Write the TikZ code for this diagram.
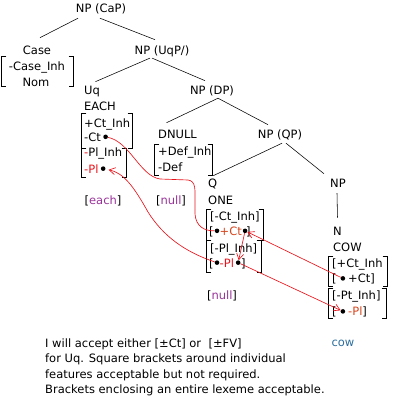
\documentclass[tikz,border=0pt]{standalone}
\usepackage{fontspec}
\setmainfont{DejaVu Sans}
\usetikzlibrary{arrows.meta,positioning,calc}
\definecolor{Red}{HTML}{E8141C}
\definecolor{OrRed}{HTML}{D4461E}
\definecolor{Plum}{HTML}{993399}
\definecolor{Teal}{HTML}{2C6E9E}
\newcommand{\lexfont}{\fontsize{11.5}{14}\selectfont}
% square brackets round a box node
\newcommand{\brk}[1]{\draw[brkline] ([xshift=4.5pt]#1.north west) -| (#1.south west) -- ++(4.5pt,0)
  ([xshift=-4.5pt]#1.north east) -| (#1.south east) -- ++(-4.5pt,0);}
\tikzset{
  lbl/.style={inner sep=0pt,font=\lexfont,anchor=base},
  feat/.style={inner sep=0pt,font=\lexfont,anchor=base west},
  brkbox/.style={inner sep=0pt},
  branch/.style={draw=black,line width=0.55pt},
  brkline/.style={draw=black,line width=0.75pt},
  dot/.style={circle,fill=black,inner sep=0pt,minimum size=4.6pt},
  link/.style={draw=Red,line width=0.65pt},
  linkarr/.style={link,-{Straight Barb[length=6pt,width=7pt]}}
}
\begin{document}
\begin{tikzpicture}[x=1pt,y=-1pt]
  \useasboundingbox (0,0) rectangle (403,410);
  % tree labels
  \node[lbl] (npcap) at (101,12) {NP (CaP)};
  \node[lbl] (case) at (37,54) {Case};
  \node[lbl] (caseinh) at (37,70) {-Case\_Inh};
  \node[lbl] (nom) at (36,86) {Nom};
  \node[brkbox,minimum width=71pt,minimum height=29pt] (casebox) at (37.5,71.5) {};
  \node[lbl] (npuqp) at (162,54) {NP (UqP/)};
  \node[feat] (uq) at (84,94) {Uq};
  \node[feat] (each) at (84,110) {EACH};
  \node[lbl] (npdp) at (212,94) {NP (DP)};
  \node[feat] (dnull) at (158,138) {DNULL};
  \node[lbl] (npqp) at (280,138) {NP (QP)};
  \node[feat] (q) at (208,187) {Q};
  \node[feat] (one) at (208,204) {ONE};
  \node[lbl] (np) at (338,187) {NP};
  \node[feat] (n) at (333,235) {N};
  \node[feat] (cow) at (333,251) {COW};

  % EACH features
  \node[feat] (eachinh) at (84,127) {+Ct\_Inh};
  \node[feat] (eachct) at (84,141) {-Ct};
  \node[dot,right=2pt of eachct] (eachctdot) {};
  \node[brkbox,minimum width=50pt,minimum height=34pt] (eachbox1) at (107,131) {};
  \node[feat] (eachplinh) at (84,156) {\textcolor{Red}{-}Pl\_Inh};
  \node[feat] (eachpl) at (84,173) {\textcolor{Red}{-Pl}};
  \node[dot,right=2pt of eachpl] (eachpldot) {};
  \node[brkbox,minimum width=44pt,minimum height=28pt] (eachbox2) at (104,163) {};
  \node[lbl] (eachtag) at (103,204) {[\textcolor{Plum}{each}]};

  % DNULL features
  \node[feat] (definh) at (158,155) {+Def\_Inh};
  \node[feat] (def) at (158,171) {-Def};
  \node[brkbox,minimum width=57pt,minimum height=30pt] (defbox) at (183.5,160) {};
  \node[lbl] (nulltag1) at (171,204) {[\textcolor{Plum}{null}]};

  % ONE features
  \node[feat] (onectinh) at (210,220) {[-Ct\_Inh]};
  \node[feat] (onelb1) at (209,235) {[};
  \node[feat] (onect) at (219.5,235) {\textcolor{OrRed}{+Ct}};
  \node[dot,left=0pt of onect] (onectl) {};
  \node[dot,right=0.5pt of onect] (onectr) {};
  \node[feat] (onerb1) at (246,235) {]};
  \node[brkbox,minimum width=56pt,minimum height=30pt] (onebox1) at (235,225) {};
  \node[feat] (oneplinh) at (210,252) {[-Pl\_Inh]};
  \node[feat] (onelb2) at (209,267) {[};
  \node[feat] (onepl) at (219.5,267) {\textcolor{Red}{-Pl}};
  \node[dot,left=0pt of onepl] (onepll) {};
  \node[dot,right=1.5pt of onepl] (oneplr) {};
  \node[feat] (onerb2) at (241,267) {]};
  \node[brkbox,minimum width=54pt,minimum height=31pt] (onebox2) at (234,256.5) {};
  \node[lbl] (nulltag2) at (222,299) {[\textcolor{Plum}{null}]};

  % COW features
  \node[feat] (cowctinh) at (332,267) {[+Ct\_Inh};
  \node[feat] (cowlb1) at (332,282) {[};
  \node[dot,right=3.5pt of cowlb1] (cowctdot) {};
  \node[feat] (cowct) at (348,282) {+Ct]};
  \node[brkbox,minimum width=58pt,minimum height=29pt] (cowbox1) at (358,271.5) {};
  \node[feat] (cowplinh) at (332,299) {[-Pt\_Inh]};
  \node[feat] (cowlb2) at (332,315) {[};
  \node[dot,right=3.5pt of cowlb2] (cowpldot) {};
  \node[feat] (cowpl) at (348,315) {\textcolor{OrRed}{-Pl}]};
  \node[brkbox,minimum width=57pt,minimum height=29pt] (cowbox2) at (357.5,303.5) {};
  \node[lbl] (cowtag) at (343,346) {\textcolor{Teal}{cow}};

  % brackets
  \brk{casebox}
  \brk{eachbox1}
  \brk{eachbox2}
  \brk{defbox}
  \brk{onebox1}
  \brk{onebox2}
  \brk{cowbox1}
  \brk{cowbox2}

  % branches
  \draw[branch] ([shift={(-23,4.5)}]npcap.south) -- ([shift={(3,-7.6)}]case.north);
  \draw[branch] ([shift={(-1,4.5)}]npcap.south) -- ([shift={(-7,-5.4)}]npuqp.north);
  \draw[branch] ([shift={(-12,1.5)}]npuqp.south) -- ([shift={(3.3,-3.7)}]uq.north);
  \draw[branch] ([shift={(-10,1.5)}]npuqp.south) -- ([shift={(-7,-4.4)}]npdp.north);
  \draw[branch] ([shift={(6,2.5)}]npdp.south) -- ([shift={(-11,-6.7)}]dnull.north);
  \draw[branch] ([shift={(6,2.5)}]npdp.south) -- ([shift={(-12,-4.4)}]npqp.north);
  \draw[branch] ([shift={(2,3.5)}]npqp.south) -- ([shift={(0.6,-2.6)}]q.north);
  \draw[branch] ([shift={(6,3.5)}]npqp.south) -- ([shift={(-14,-4.7)}]np.north);
  \draw[branch] ([shift={(-1,6)}]np.south) -- ([shift={(0,-8.7)}]n.north);

  % agreement links
  \draw[link] (eachctdot) .. controls (130,142) and (140,176) .. (160,179) -- (188,180)
    .. controls (196,181) and (195,190) .. (195,200) -- (195,214)
    .. controls (196,227) and (205,231) .. (onectl);
  \draw[linkarr] (cowctdot) -- (onectr);
  \draw[linkarr] (onectr) -- (oneplr);
  \draw[linkarr] (oneplr) -- (cowpldot);
  \draw[linkarr,shorten >=3pt] (onepll) .. controls (185,252) and (163,236) .. (148,212)
    .. controls (134,187) and (124,173) .. (eachpldot);

  % note
  \node[feat] (note1) at (45,347) {I will accept either [±Ct] or\ \ [±FV]};
  \node[feat] (note2) at (45,362.5) {for Uq. Square brackets around individual};
  \node[feat] (note3) at (45,378) {features acceptable but not required.};
  \node[feat] (note4) at (45,393.5) {Brackets enclosing an entire lexeme acceptable.};
\end{tikzpicture}
\end{document}
